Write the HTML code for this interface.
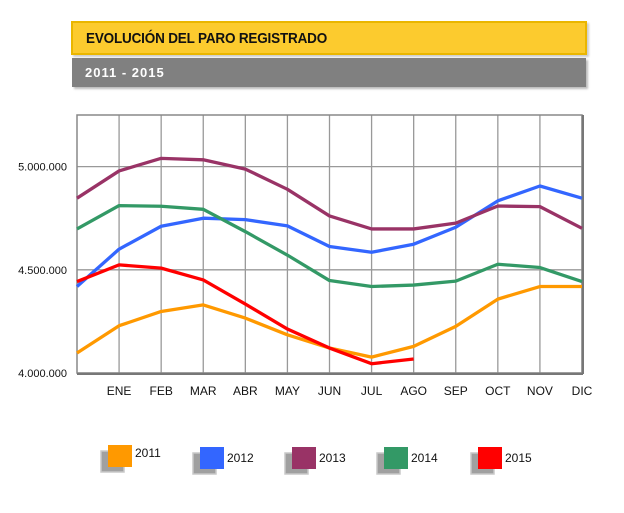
<!DOCTYPE html>
<html><head><meta charset="utf-8"><style>
body{margin:0;background:#fff;width:624px;height:513px;overflow:hidden;font-family:"Liberation Sans",sans-serif;}
#title{position:absolute;left:71px;top:21px;width:512px;height:30px;background:#fccb2e;border:2px solid #eab600;box-shadow:2px 2px 2px #ccc;}
#title span{position:absolute;left:13px;top:7px;font-weight:bold;font-size:15px;color:#111;transform:scaleX(0.9);transform-origin:left;letter-spacing:-0.2px}
#sub{position:absolute;left:72px;top:58px;width:514px;height:29px;background:#808080;box-shadow:2px 2px 2px #bbb;}
#sub span{position:absolute;left:13px;top:7px;font-weight:bold;font-size:13px;color:#fff;letter-spacing:1px}
</style></head><body>
<div id="title"><span>EVOLUCIÓN DEL PARO REGISTRADO</span></div>
<div id="sub"><span>2011 - 2015</span></div>
<svg id="chart" width="624" height="513" style="position:absolute;left:0;top:0"></svg>
<script>
const months=["","ENE","FEB","MAR","ABR","MAY","JUN","JUL","AGO","SEP","OCT","NOV","DIC"];
const yTicks=[4000000,4500000,5000000];
const yTickLabels=["4.000.000","4.500.000","5.000.000"];
const seriesNames=["2011","2012","2013","2014","2015"];
const s2011=[4097,4229,4298,4330,4266,4185,4121,4077,4129,4226,4358,4419,4419];
const s2012=[4419,4600,4711,4750,4743,4713,4613,4585,4624,4706,4834,4906,4847];
const s2013=[4847,4979,5040,5033,4988,4890,4761,4698,4698,4726,4809,4806,4701];
const s2014=[4698,4811,4808,4793,4685,4571,4448,4419,4426,4445,4527,4511,4443];
const s2015=[4443,4524,4508,4451,4334,4213,4121,4045,4068];
const colors=["#ff9900","#3366ff","#993366","#339966","#ff0000"];
const allSeries=[s2011,s2012,s2013,s2014,s2015];
const L=77,R=582,T=115,B=373,yMin=4000,yMax=5250;
const X=i=>L+i*(R-L)/12;
const Y=v=>B-(v-yMin)/(yMax-yMin)*(B-T);
const svg=document.getElementById('chart');const NS="http://www.w3.org/2000/svg";
function mk(t,a,p){const e=document.createElementNS(NS,t);for(const k in a)e.setAttribute(k,a[k]);(p||svg).appendChild(e);return e;}
for(let i=1;i<=12;i++){const g=mk('line',{x1:X(i),x2:X(i),y1:T,y2:B,stroke:'#999','stroke-width':1.3});


const t=mk('text',{x:X(i),y:395,'text-anchor':'middle','font-size':12,fill:'#111'});t.textContent=months[i];

}
yTicks.forEach((v,i)=>{const g=mk('line',{x1:L,x2:R,y1:Y(v/1000),y2:Y(v/1000),stroke:'#999','stroke-width':1.3});


const t=mk('text',{x:67,y:Y(v/1000)+4,'text-anchor':'end','font-size':11,fill:'#111'});t.textContent=yTickLabels[i];

});
const fr=mk('path',{d:`M${L},${T}H${R}V${B}H${L}Z`,fill:'none',stroke:'#888','stroke-width':1.5});


mk('line',{x1:R+1,x2:R+1,y1:T,y2:B+1,stroke:'#777','stroke-width':2});
mk('line',{x1:L,x2:R+1,y1:B+1,y2:B+1,stroke:'#777','stroke-width':2});
allSeries.forEach((s,k)=>{const p=mk('polyline',{points:s.map((v,i)=>X(i)+','+Y(v)).join(' '),fill:'none',stroke:colors[k],'stroke-width':3.3,'stroke-linejoin':'round'});

});
const lx=[108,200,292,384,478];
seriesNames.forEach((n,k)=>{const g=mk('g',{});


const ty=k===0?445:447;
mk('rect',{x:lx[k]-7,y:ty+6,width:23,height:21,fill:'#a0a0a0',stroke:'#c8c8c8','stroke-width':1.5},g);
mk('rect',{x:lx[k],y:ty,width:24,height:22,fill:colors[k]},g);
const t=mk('text',{x:lx[k]+27,y:ty+(k===0?12:15),'font-size':12,fill:'#111'},g);t.textContent=n;});
</script>
</body></html>
